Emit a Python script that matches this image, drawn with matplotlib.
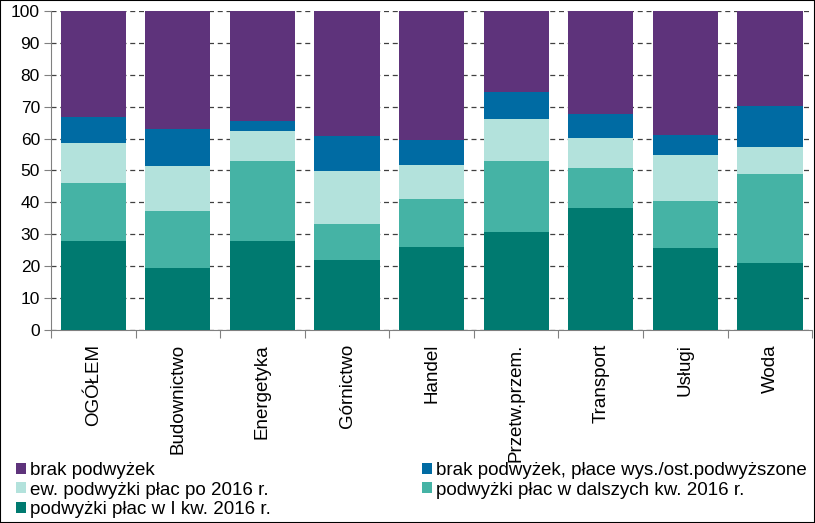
import matplotlib.pyplot as plt
import numpy as np
from matplotlib.patches import Rectangle

plt.rcParams['font.family'] = ['Liberation Sans', 'DejaVu Sans']

categories = ['OGÓŁEM', 'Budownictwo', 'Energetyka', 'Górnictwo', 'Handel',
              'Przetw.przem.', 'Transport', 'Usługi', 'Woda']

# segment sizes (percent), bottom to top
i_kw = [28.0, 19.4, 27.9, 21.9, 26.0, 30.7, 38.2, 25.7, 21.0]
dalsze_kw = [18.1, 17.9, 25.1, 11.3, 15.1, 22.3, 12.6, 14.7, 27.9]
po_2016 = [12.5, 14.1, 9.4, 16.6, 10.6, 13.1, 9.4, 14.5, 8.5]
brak_wys = [8.2, 11.6, 3.1, 11.0, 7.9, 8.5, 7.5, 6.2, 12.8]
brak = [33.2, 37.0, 34.5, 39.2, 40.4, 25.4, 32.3, 38.9, 29.8]

labels = ['podwyżki płac w I kw. 2016 r.', 'podwyżki płac w dalszych kw. 2016 r.',
          'ew. podwyżki płac po 2016 r.', 'brak podwyżek, płace wys./ost.podwyższone',
          'brak podwyżek']
colors = ['#007A70', '#45B3A5', '#B3E2DC', '#006BA3', '#5E337B']
series = [i_kw, dalsze_kw, po_2016, brak_wys, brak]

fig = plt.figure(figsize=(8.15, 5.23), dpi=100)
ax = fig.add_axes([0.0626, 0.369, 0.934, 0.61])

x = np.arange(len(categories))
bottom = np.zeros(len(categories))
bars = []
for vals, col, lab in zip(series, colors, labels):
    b = ax.bar(x, vals, 0.77, bottom=bottom, color=col, label=lab, zorder=3)
    bars.append(b)
    bottom += np.array(vals)

ax.set_ylim(0, 100)
ax.set_xlim(-0.5, len(categories) - 0.5)
ax.set_yticks(range(0, 101, 10))
ax.yaxis.grid(True, linestyle=(0, (4, 3)), color='#404040', linewidth=0.9, zorder=0)
ax.set_axisbelow(True)

ax.set_xticks(np.arange(-0.5, len(categories), 1))
ax.set_xticklabels([])
ax.set_xticks(x, minor=True)
ax.set_xticklabels(categories, minor=True, rotation=90, fontsize=13.5, va='top')
ax.tick_params(axis='x', which='major', length=6, color='#808080', direction='out')
ax.tick_params(axis='x', which='minor', length=0, pad=10)
ax.tick_params(axis='y', length=5, color='#808080', labelsize=12.5, pad=3)

for s in ['top', 'right']:
    ax.spines[s].set_visible(False)
for s in ['left', 'bottom']:
    ax.spines[s].set_color('#808080')

# legend, row-wise like the original
h = {lab: b for lab, b in zip(labels, bars)}
left_items = ['brak podwyżek', 'ew. podwyżki płac po 2016 r.', 'podwyżki płac w I kw. 2016 r.']
right_items = ['brak podwyżek, płace wys./ost.podwyższone', 'podwyżki płac w dalszych kw. 2016 r.']
common = dict(frameon=False, fontsize=13.5, handlelength=0.53, handleheight=0.53,
              handletextpad=0.2, labelspacing=0.12, borderaxespad=0, borderpad=0)
fig.legend([h[k] for k in left_items], left_items, loc='upper left',
           bbox_to_anchor=(0.0196, 0.116), **common)
fig.legend([h[k] for k in right_items], right_items, loc='upper left',
           bbox_to_anchor=(0.518, 0.116), **common)

fig.patches.append(Rectangle((0, 0), 1, 1, transform=fig.transFigure, fill=False,
                             edgecolor='black', linewidth=1.5))

plt.savefig('out.png', dpi=100)
